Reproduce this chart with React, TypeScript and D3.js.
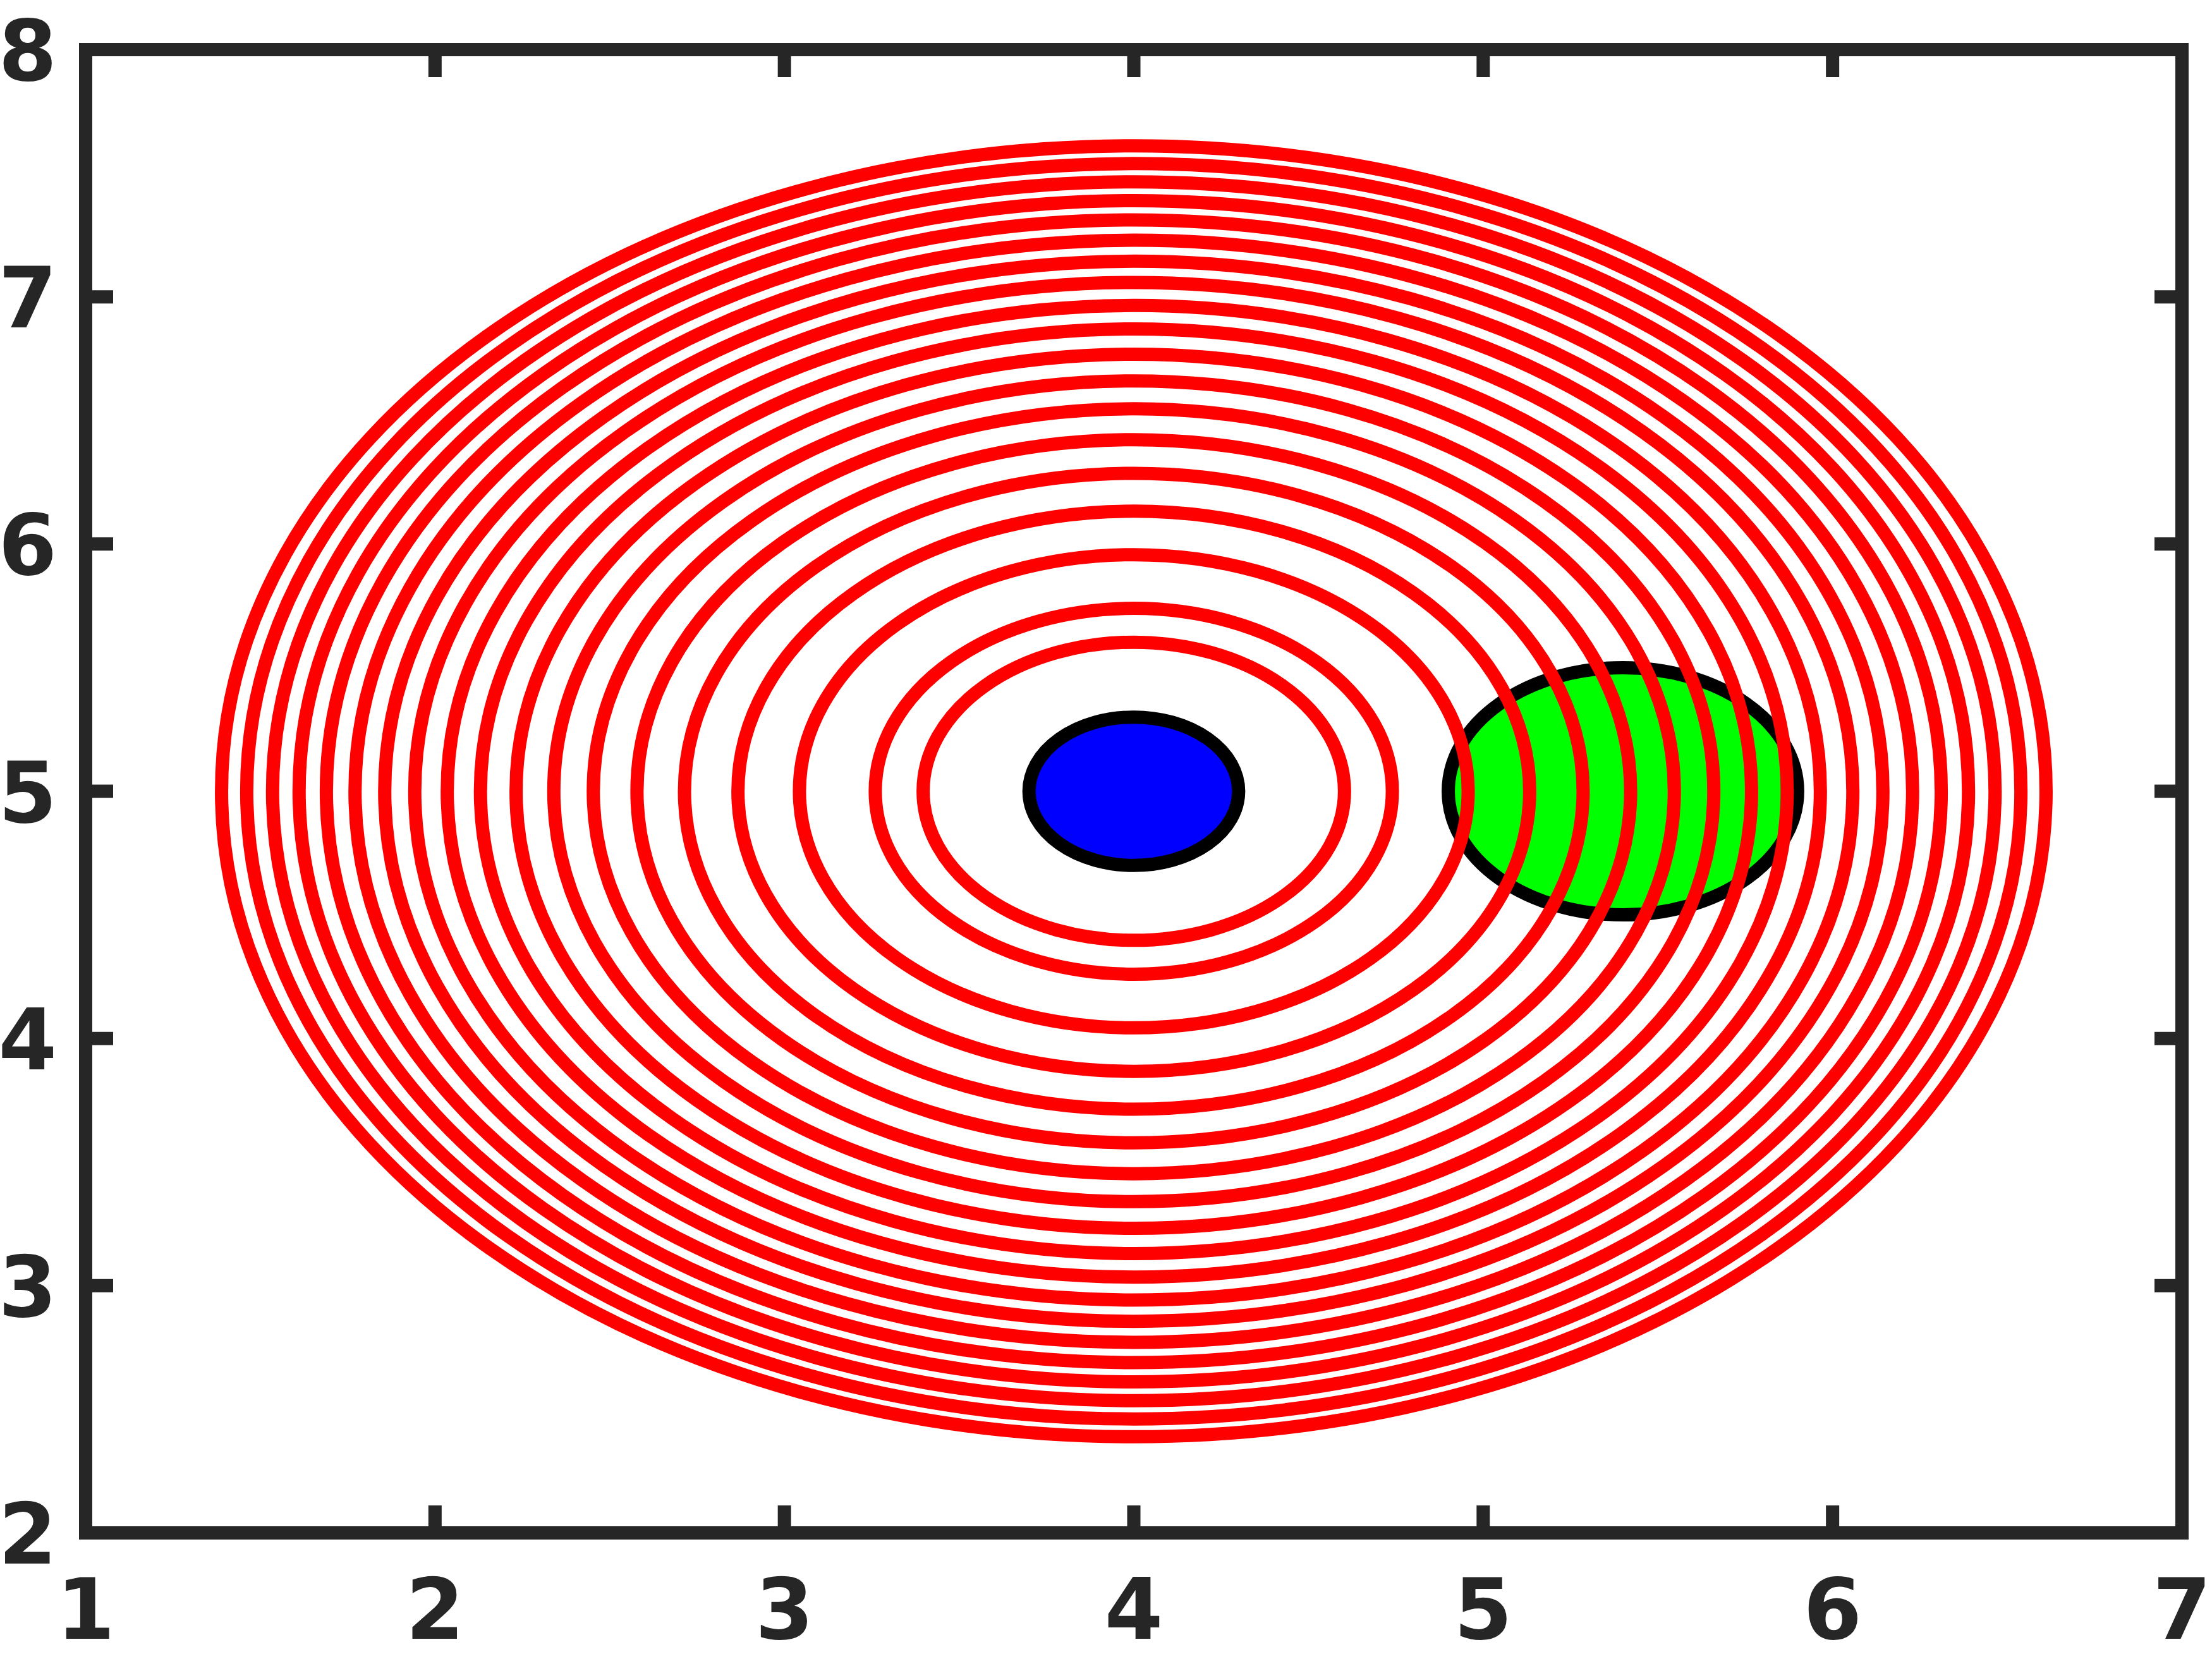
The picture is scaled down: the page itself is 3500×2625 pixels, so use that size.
import React from "react";
import * as d3 from "d3";

// ---- data ----
const xTicks = [1, 2, 3, 4, 5, 6, 7];
const yTicks = [2, 3, 4, 5, 6, 7, 8];
const xDomain = [1, 7];
const yDomain = [2, 8];
// concentric red contour rings around (4, 5), radii in data units
const ringCenter = [4, 5];
const ringRadii = [2.611, 2.539, 2.465, 2.389, 2.311, 2.229, 2.144, 2.058, 1.965, 1.87, 1.768, 1.66, 1.547, 1.422, 1.286, 1.133, 0.957, 0.74, 0.603];
// filled discs: [cx, cy, r]
const blueDisc = [4, 5, 0.3];
const greenDisc = [5.4, 5, 0.5];

const W = 3500;
const H = 2625;
const M = { left: 135.5, right: 3452.5, top: 78.5, bottom: 2425.5 };
const AXIS = "#262626";
const FONT = "'DejaVu Sans', sans-serif";
const FS = 133;

export default function App() {
  const x = d3.scaleLinear().domain(xDomain).range([M.left, M.right]);
  const y = d3.scaleLinear().domain(yDomain).range([M.bottom, M.top]);
  const rx = (cx: number, r: number) => x(cx + r) - x(cx);
  const ry = (cy: number, r: number) => y(cy) - y(cy + r);
  const tickLen = 43.5;
  const sw = 21;
  const lw = 21;

  return (
    <svg width={W} height={H} style={{ position: "absolute", left: 0, top: 0, background: "#fff" }}>
      <rect x={0} y={0} width={W} height={H} fill="#fff" />
      {/* discs */}
      <ellipse cx={x(blueDisc[0])} cy={y(blueDisc[1])} rx={rx(blueDisc[0], blueDisc[2])} ry={ry(blueDisc[1], blueDisc[2])} fill="#0000ff" stroke="#000" strokeWidth={lw} />
      <ellipse cx={x(greenDisc[0])} cy={y(greenDisc[1])} rx={rx(greenDisc[0], greenDisc[2])} ry={ry(greenDisc[1], greenDisc[2])} fill="#00ff00" stroke="#000" strokeWidth={lw} />
      {/* rings */}
      {ringRadii.map((r, i) => (
        <ellipse key={i} cx={x(ringCenter[0])} cy={y(ringCenter[1])} rx={rx(ringCenter[0], r)} ry={ry(ringCenter[1], r)} fill="none" stroke="#ff0000" strokeWidth={lw} />
      ))}
      {/* ticks */}
      {xTicks.slice(1, -1).map((t) => (
        <g key={"xt" + t}>
          <line x1={x(t)} x2={x(t)} y1={M.bottom} y2={M.bottom - tickLen} stroke={AXIS} strokeWidth={sw} />
          <line x1={x(t)} x2={x(t)} y1={M.top} y2={M.top + tickLen} stroke={AXIS} strokeWidth={sw} />
        </g>
      ))}
      {yTicks.slice(1, -1).map((t) => (
        <g key={"yt" + t}>
          <line x1={M.left} x2={M.left + tickLen} y1={y(t)} y2={y(t)} stroke={AXIS} strokeWidth={sw} />
          <line x1={M.right} x2={M.right - tickLen} y1={y(t)} y2={y(t)} stroke={AXIS} strokeWidth={sw} />
        </g>
      ))}
      {/* box */}
      <rect x={M.left} y={M.top} width={M.right - M.left} height={M.bottom - M.top} fill="none" stroke={AXIS} strokeWidth={sw} />
      {/* labels */}
      {xTicks.map((t) => (
        <text key={"xl" + t} x={x(t)} y={2593} textAnchor="middle" fontFamily={FONT} fontWeight="bold" fontSize={FS} fill={AXIS}>
          {t}
        </text>
      ))}
      {yTicks.map((t) => (
        <text key={"yl" + t} x={90} y={y(t) + 48.5} textAnchor="end" fontFamily={FONT} fontWeight="bold" fontSize={FS} fill={AXIS}>
          {t}
        </text>
      ))}
    </svg>
  );
}
